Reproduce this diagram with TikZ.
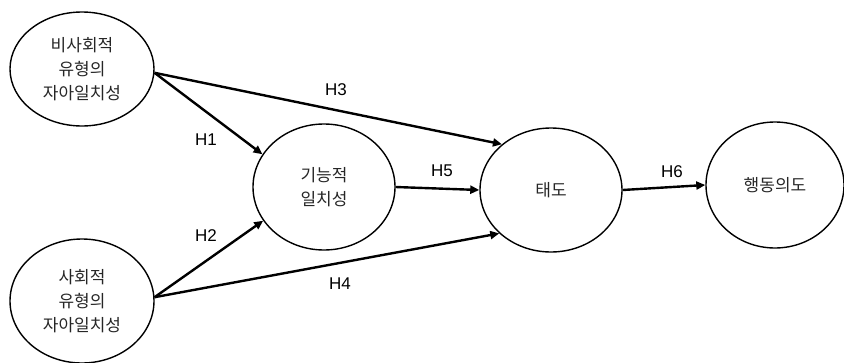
\documentclass[tikz,border=0pt]{standalone}
\usepackage{fontspec}
\setmainfont{Liberation Sans}
\newfontfamily\kr{Noto Sans CJK KR}
\usetikzlibrary{shapes.geometric,arrows.meta}
\begin{document}
\begin{tikzpicture}[x=1pt,y=-1pt,
  construct/.style={ellipse,draw,line width=1.4pt,inner sep=0pt,align=center,
    font=\kr\fontsize{17}{24}\selectfont,text=black!85},
  path/.style={line width=2.4pt,-{Triangle[length=9pt,width=8pt]}},
  hyp/.style={font=\fontsize{17}{20}\selectfont,inner sep=0pt}]
\useasboundingbox (0,0) rectangle (844,362);
\node[construct,minimum width=144pt,minimum height=114pt] (nsoc) at (82,69) {비사회적\\유형의\\자아일치성};
\node[construct,minimum width=144pt,minimum height=124pt] (soc) at (82,301) {사회적\\유형의\\자아일치성};
\node[construct,minimum width=142pt,minimum height=126pt] (func) at (324,187) {기능적\\일치성};
\node[construct,minimum width=142pt,minimum height=124pt] (att) at (551,190) {태도};
\node[construct,minimum width=138pt,minimum height=126pt] (int) at (775,185) {행동의도};
\draw[path] (nsoc.-3) -- (att.137);
\draw[path] (nsoc.-3) -- (func.152);
\draw[path] (soc.3) -- (func.209);
\draw[path] (soc.3) -- (att.220);
\draw[path] (func.east) -- (att.west);
\draw[path] (att.east) -- (int.west);
\node[hyp] (h1) at (206,140) {H1};
\node[hyp] (h2) at (206,236) {H2};
\node[hyp] (h3) at (336,90) {H3};
\node[hyp] (h4) at (340,284) {H4};
\node[hyp] (h5) at (442,171) {H5};
\node[hyp] (h6) at (672,172) {H6};
\end{tikzpicture}
\end{document}
